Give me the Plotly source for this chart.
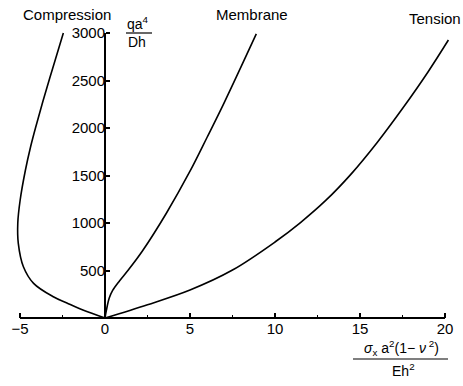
import plotly.graph_objects as go

# Load parameter q a^4 / (D h) versus in-plane stress parameter
compression_x = [0, -1.3, -2.24, -3.04, -4.2, -4.8, -5.1, -5.13, -4.99, -4.68, -4.38, -4.09, -3.63, -3.04, -2.45]
compression_y = [0, 84, 158, 224, 365, 540, 786, 1000, 1242, 1558, 1800, 2000, 2295, 2650, 3000]

membrane_x = [0, 0.08, 0.25, 0.45, 0.85, 1.37, 2.2, 3.6, 5.0, 6.0, 7.0, 8.9]
membrane_y = [0, 80, 210, 290, 390, 505, 705, 1100, 1545, 1900, 2262, 2990]

tension_x = [0, 2.5, 5.0, 7.5, 10.0, 11.5, 13.0, 14.5, 16.0, 17.5, 19.0, 20.2]
tension_y = [0, 140, 295, 505, 800, 1005, 1240, 1520, 1845, 2205, 2590, 2926]

x_ticks = [-5, 0, 5, 10, 15, 20]
x_minor_ticks = [-2.5, 2.5, 7.5, 12.5, 17.5]
y_ticks = [500, 1000, 1500, 2000, 2500, 3000]

curve_labels = ["Compression", "Membrane", "Tension"]

W, H = 463, 386
FONT = "Liberation Sans, Arial, Helvetica, sans-serif"

# axis scaling: 17 px per x unit, 0.095 px per y unit
X0_PX, Y0_PX = 105, 318
XS, YS = 17.0, 0.095
x_range = [-X0_PX / XS, (W - X0_PX) / XS]
y_range = [-(H - Y0_PX) / YS, Y0_PX / YS]


def px(x):
    return x / W


def py(y):
    return 1 - y / H


fig = go.Figure()
for xs, ys in [(compression_x, compression_y), (membrane_x, membrane_y), (tension_x, tension_y)]:
    fig.add_trace(go.Scatter(x=xs, y=ys, mode="lines",
                             line=dict(color="black", width=1.6, shape="spline", smoothing=1.0),
                             showlegend=False, hoverinfo="skip"))

# axis lines spanning only the data extent
fig.add_shape(type="line", x0=x_ticks[0], x1=x_ticks[-1], y0=0, y1=0,
              line=dict(color="black", width=2))
fig.add_shape(type="line", x0=0, x1=0, y0=0, y1=y_ticks[-1],
              line=dict(color="black", width=2))

fig.update_layout(
    width=W, height=H,
    margin=dict(l=0, r=0, t=0, b=0, pad=0),
    paper_bgcolor="white", plot_bgcolor="white",
    font=dict(family=FONT, color="black", size=14),
    xaxis=dict(range=x_range, anchor="free", position=(H - Y0_PX) / H,
               showgrid=False, zeroline=False, showline=False,
               tickmode="array", tickvals=x_ticks, ticks="inside",
               ticklen=5, tickwidth=1.5, tickcolor="black",
               tickfont=dict(size=15, family=FONT),
               minor=dict(tickmode="array", tickvals=x_minor_ticks, ticks="inside",
                          ticklen=3, tickwidth=1.2, tickcolor="black", showgrid=False)),
    yaxis=dict(range=y_range, anchor="free", position=X0_PX / W,
               showgrid=False, zeroline=False, showline=False,
               tickmode="array", tickvals=y_ticks, ticks="inside",
               ticklen=4, tickwidth=1.5, tickcolor="black",
               tickfont=dict(size=15, family=FONT)),
)

# curve names
for text, (lx, ly) in zip(curve_labels, [(67, 14), (252, 14), (435, 19)]):
    fig.add_annotation(x=px(lx), y=py(ly), xref="paper", yref="paper", text=text,
                       showarrow=False, font=dict(size=15, family=FONT),
                       xanchor="center", yanchor="middle")

# y-axis title as a fraction
fig.add_annotation(x=px(138), y=py(23), xref="paper", yref="paper", text="qa<sup>4</sup>",
                   showarrow=False, font=dict(size=14, family=FONT),
                   xanchor="center", yanchor="middle")
fig.add_shape(type="line", xref="paper", yref="paper", x0=px(126), x1=px(152),
              y0=py(33), y1=py(33), line=dict(color="black", width=1.2))
fig.add_annotation(x=px(137), y=py(42), xref="paper", yref="paper", text="Dh",
                   showarrow=False, font=dict(size=14, family=FONT),
                   xanchor="center", yanchor="middle")

# x-axis title as a fraction
fig.add_annotation(x=px(401), y=py(348), xref="paper", yref="paper",
                   text="<i>σ</i><sub>x</sub> a<sup>2</sup>(1− <i>ν</i><sup> 2</sup>)",
                   showarrow=False, font=dict(size=14, family=FONT),
                   xanchor="center", yanchor="middle")
fig.add_shape(type="line", xref="paper", yref="paper", x0=px(353), x1=px(448),
              y0=py(359), y1=py(359), line=dict(color="black", width=1.2))
fig.add_annotation(x=px(403), y=py(370), xref="paper", yref="paper", text="Eh<sup>2</sup>",
                   showarrow=False, font=dict(size=14, family=FONT),
                   xanchor="center", yanchor="middle")

fig.write_html("out.html")
